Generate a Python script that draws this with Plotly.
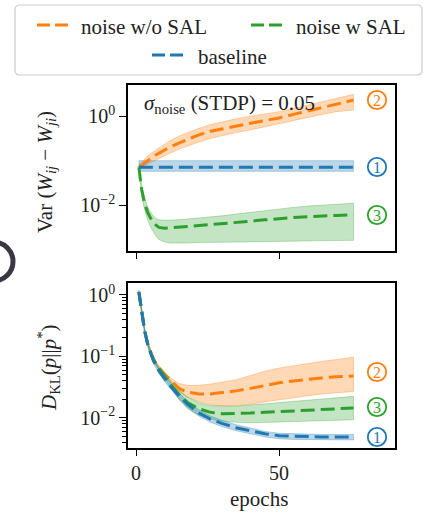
import plotly.graph_objects as go

# ---------------- data ----------------
epochs = [1, 2, 3, 4, 5, 6, 7, 8, 10, 12, 15, 18, 22, 26, 30, 35, 40, 45, 50, 55, 60, 65, 70, 76]

# Top panel: Var(W_ij - W_ji)
var_nosal = [0.0708, 0.0794, 0.0912, 0.102, 0.112, 0.123, 0.135, 0.148, 0.174, 0.204, 0.251, 0.302,
             0.380, 0.457, 0.513, 0.603, 0.692, 0.794, 0.912, 1.096, 1.318, 1.549, 1.862, 2.291]
var_nosal_hi = [0.0794, 0.0933, 0.110, 0.126, 0.141, 0.158, 0.178, 0.195, 0.234, 0.282, 0.355, 0.427,
                0.537, 0.646, 0.741, 0.871, 1.0, 1.122, 1.259, 1.479, 1.778, 2.089, 2.512, 3.090]
var_nosal_lo = [0.0631, 0.0676, 0.0759, 0.0832, 0.0891, 0.0955, 0.102, 0.112, 0.129, 0.148, 0.182, 0.214,
                0.263, 0.316, 0.363, 0.427, 0.490, 0.562, 0.661, 0.794, 0.933, 1.096, 1.259, 1.380]

var_sal = [0.0708, 0.0219, 0.0110, 0.00708, 0.00525, 0.00417, 0.00355, 0.00316, 0.00302, 0.00309, 0.00316, 0.00331,
           0.00347, 0.00363, 0.00380, 0.00407, 0.00437, 0.00468, 0.00501, 0.00525, 0.00550, 0.00575, 0.00589, 0.00603]
var_sal_hi = [0.100, 0.0282, 0.0141, 0.00933, 0.00708, 0.00575, 0.00501, 0.00468, 0.00457, 0.00457, 0.00468, 0.00490,
              0.00513, 0.00537, 0.00575, 0.00631, 0.00692, 0.00759, 0.00832, 0.00891, 0.00955, 0.0100, 0.0105, 0.0110]
var_sal_lo = [0.0562, 0.0158, 0.00794, 0.00479, 0.00331, 0.00251, 0.00200, 0.00170, 0.00148, 0.00141, 0.00141, 0.00141,
              0.00145, 0.00145, 0.00148, 0.00148, 0.00151, 0.00151, 0.00155, 0.00155, 0.00158, 0.00158, 0.00162, 0.00162]

var_base = [0.0708, 0.0708, 0.0708, 0.0708, 0.0708, 0.0708, 0.0708, 0.0708, 0.0708, 0.0708, 0.0708, 0.0708,
            0.0708, 0.0708, 0.0708, 0.0708, 0.0708, 0.0708, 0.0708, 0.0708, 0.0708, 0.0708, 0.0708, 0.0708]
var_base_hi = [0.100, 0.100, 0.100, 0.100, 0.100, 0.100, 0.100, 0.100, 0.100, 0.100, 0.100, 0.100,
               0.100, 0.100, 0.100, 0.100, 0.100, 0.100, 0.100, 0.100, 0.100, 0.100, 0.100, 0.100]
var_base_lo = [0.0575, 0.0575, 0.0575, 0.0575, 0.0575, 0.0575, 0.0575, 0.0575, 0.0575, 0.0575, 0.0575, 0.0575,
               0.0575, 0.0575, 0.0575, 0.0575, 0.0575, 0.0575, 0.0575, 0.0575, 0.0575, 0.0575, 0.0575, 0.0575]

# Bottom panel: D_KL(p||p*)
kl_nosal = [1.122, 0.501, 0.263, 0.166, 0.120, 0.0933, 0.0759, 0.0661, 0.0513, 0.0417, 0.0302, 0.0263,
            0.0245, 0.0245, 0.0257, 0.0275, 0.0302, 0.0339, 0.0372, 0.0398, 0.0427, 0.0447, 0.0468, 0.0479]
kl_nosal_hi = [1.202, 0.537, 0.282, 0.178, 0.129, 0.100, 0.0813, 0.0708, 0.0550, 0.0447, 0.0363, 0.0339,
               0.0339, 0.0355, 0.0380, 0.0417, 0.0490, 0.0575, 0.0646, 0.0708, 0.0759, 0.0832, 0.0891, 0.0977]
kl_nosal_lo = [1.047, 0.468, 0.245, 0.155, 0.112, 0.0871, 0.0708, 0.0617, 0.0479, 0.0380, 0.0269, 0.0219,
               0.0182, 0.0162, 0.0158, 0.0158, 0.0166, 0.0182, 0.0195, 0.0214, 0.0229, 0.0245, 0.0257, 0.0269]

kl_sal = [1.122, 0.501, 0.263, 0.166, 0.117, 0.0912, 0.0741, 0.0631, 0.0479, 0.0355, 0.0240, 0.0178,
          0.0141, 0.0123, 0.0117, 0.0117, 0.0120, 0.0123, 0.0126, 0.0129, 0.0135, 0.0138, 0.0141, 0.0145]
kl_sal_hi = [1.202, 0.537, 0.282, 0.178, 0.126, 0.0977, 0.0794, 0.0676, 0.0525, 0.0407, 0.0282, 0.0219,
             0.0174, 0.0158, 0.0155, 0.0155, 0.0162, 0.0170, 0.0178, 0.0186, 0.0195, 0.0204, 0.0214, 0.0224]
kl_sal_lo = [1.047, 0.468, 0.245, 0.155, 0.110, 0.0851, 0.0692, 0.0589, 0.0437, 0.0316, 0.0200, 0.0141,
             0.0110, 0.00955, 0.00891, 0.00851, 0.00832, 0.00832, 0.00851, 0.00871, 0.00891, 0.00912, 0.00912, 0.00933]

kl_base = [1.122, 0.501, 0.263, 0.162, 0.115, 0.0871, 0.0708, 0.0589, 0.0437, 0.0331, 0.0229, 0.0166,
           0.0120, 0.00955, 0.00813, 0.00692, 0.00617, 0.00550, 0.00513, 0.00501, 0.00490, 0.00490, 0.00490, 0.00490]
kl_base_hi = [1.202, 0.537, 0.288, 0.178, 0.126, 0.0955, 0.0776, 0.0646, 0.0490, 0.0372, 0.0257, 0.0186,
              0.0135, 0.0107, 0.00912, 0.00776, 0.00676, 0.00603, 0.00562, 0.00550, 0.00537, 0.00537, 0.00537, 0.00537]
kl_base_lo = [1.047, 0.468, 0.240, 0.148, 0.105, 0.0794, 0.0646, 0.0525, 0.0389, 0.0295, 0.0204, 0.0148,
              0.0107, 0.00851, 0.00724, 0.00617, 0.00550, 0.00490, 0.00457, 0.00447, 0.00437, 0.00437, 0.00437, 0.00437]

series_names = ["noise w/o SAL", "noise w SAL", "baseline"]
series_tags = ["2", "3", "1"]
x_tick_vals = [0, 50]
x_tick_text = ["0", "50"]
var_tick_vals = [1, 0.01]
var_tick_text = ["10<sup>0</sup>", "10<sup>−2</sup>"]
kl_tick_vals = [1, 0.1, 0.01]
kl_tick_text = ["10<sup>0</sup>", "10<sup>−1</sup>", "10<sup>−2</sup>"]
kl_minor_vals = [0.003, 0.004, 0.005, 0.006, 0.007, 0.008, 0.009,
                 0.02, 0.03, 0.04, 0.05, 0.06, 0.07, 0.08, 0.09,
                 0.2, 0.3, 0.4, 0.5, 0.6, 0.7, 0.8, 0.9]

# ---------------- style ----------------
W, H = 429, 515
FONT = "Liberation Serif"
COLORS = ["#ff7f0e", "#2ca02c", "#1f77b4"]
FILLS = ["rgba(255,127,14,0.30)", "rgba(44,160,44,0.28)", "rgba(31,119,180,0.30)"]
EDGES = ["rgba(255,127,14,0.30)", "rgba(44,160,44,0.30)", "rgba(31,119,180,0.30)"]
DASH = "14px,6px"


def px(x):
    return x / W


def py(y):
    return 1 - y / H


fig = go.Figure()

panels = [
    ("x", "y", [(var_nosal, var_nosal_hi, var_nosal_lo), (var_sal, var_sal_hi, var_sal_lo),
                (var_base, var_base_hi, var_base_lo)]),
    ("x2", "y2", [(kl_nosal, kl_nosal_hi, kl_nosal_lo), (kl_sal, kl_sal_hi, kl_sal_lo),
                  (kl_base, kl_base_hi, kl_base_lo)]),
]

for xa, ya, data in panels:
    for i, (m, hi, lo) in enumerate(data):
        fig.add_trace(go.Scatter(
            x=epochs + epochs[::-1], y=hi + lo[::-1], xaxis=xa, yaxis=ya,
            fill="toself", fillcolor=FILLS[i], line=dict(color=EDGES[i], width=1),
            mode="lines", showlegend=False, hoverinfo="skip"))
    for i, (m, hi, lo) in enumerate(data):
        fig.add_trace(go.Scatter(
            x=epochs, y=m, xaxis=xa, yaxis=ya, mode="lines", name=series_names[i],
            line=dict(color=COLORS[i], width=3, dash=DASH), showlegend=False))

axis_common = dict(showline=True, linecolor="black", linewidth=1.5, mirror=True,
                   ticks="outside", tickcolor="black", tickwidth=1.3, showgrid=False,
                   zeroline=False, tickfont=dict(family=FONT, size=20, color="#222"))

fig.update_layout(
    width=W, height=H, margin=dict(l=0, r=0, t=0, b=0),
    paper_bgcolor="white", plot_bgcolor="white", showlegend=False,
    font=dict(family=FONT, color="#222"),
    xaxis=dict(domain=[px(128), px(395)], range=[-2.8, 90.5], anchor="y",
               tickvals=x_tick_vals, showticklabels=False, ticklen=6, **axis_common),
    yaxis=dict(domain=[py(251), py(85)], type="log", range=[-3.03, 0.70], anchor="x",
               tickvals=var_tick_vals, ticktext=var_tick_text, ticklen=7, **axis_common),
    xaxis2=dict(domain=[px(128), px(395)], range=[-2.8, 90.5], anchor="y2",
                tickvals=x_tick_vals, ticktext=x_tick_text, ticklen=6, **axis_common),
    yaxis2=dict(domain=[py(448), py(283)], type="log", range=[-2.49, 0.195], anchor="x2",
                tickvals=kl_tick_vals, ticktext=kl_tick_text, ticklen=7,
                minor=dict(tickvals=kl_minor_vals, ticks="outside", ticklen=4, tickwidth=1, tickcolor="black"),
                **axis_common),
)

shapes = []
annotations = []

# decorative dark arc at left edge (background)
shapes.append(dict(type="circle", xref="paper", yref="paper", layer="below",
                   x0=px(-26), x1=px(13), y0=py(281), y1=py(242),
                   line=dict(color="#3a3645", width=5)))

# legend box
x0, x1, y0, y1, r = 15, 422, 5, 75, 5
path = (f"M {px(x0 + r)},{py(y0)} L {px(x1 - r)},{py(y0)} Q {px(x1)},{py(y0)} {px(x1)},{py(y0 + r)} "
        f"L {px(x1)},{py(y1 - r)} Q {px(x1)},{py(y1)} {px(x1 - r)},{py(y1)} "
        f"L {px(x0 + r)},{py(y1)} Q {px(x0)},{py(y1)} {px(x0)},{py(y1 - r)} "
        f"L {px(x0)},{py(y0 + r)} Q {px(x0)},{py(y0)} {px(x0 + r)},{py(y0)} Z")
shapes.append(dict(type="path", path=path, xref="paper", yref="paper",
                   fillcolor="white", line=dict(color="#cccccc", width=1.2)))

legend_pos = [(37, 25, 79, 27), (251, 25, 294, 27), (152, 55, 196, 57)]
for i, (lx, ly, tx, ty) in enumerate(legend_pos):
    shapes.append(dict(type="line", xref="paper", yref="paper",
                       x0=px(lx), x1=px(lx + 31), y0=py(ly), y1=py(ly),
                       line=dict(color=COLORS[i], width=3, dash="13px,5px")))
    annotations.append(dict(x=px(tx), y=py(ty), xref="paper", yref="paper", text=series_names[i],
                            showarrow=False, xanchor="left", yanchor="middle",
                            font=dict(family=FONT, size=21, color="#222")))

# circled tags
tag_pos = [[(377, 100), (377, 215), (377, 167)], [(377, 372), (377, 407), (377, 437)]]
for pnl in tag_pos:
    for i, (cx, cy) in enumerate(pnl):
        shapes.append(dict(type="circle", xref="paper", yref="paper",
                           x0=px(cx - 9.2), x1=px(cx + 9.2), y0=py(cy + 9.2), y1=py(cy - 9.2),
                           line=dict(color=COLORS[i], width=1.8)))
        annotations.append(dict(x=px(cx), y=py(cy + 0.5), xref="paper", yref="paper", text=series_tags[i],
                                showarrow=False, xanchor="center", yanchor="middle",
                                font=dict(family=FONT, size=16, color=COLORS[i])))

# texts
annotations.append(dict(x=px(142), y=py(104), xref="paper", yref="paper",
                        text="<i>σ</i><sub>noise</sub> (STDP) = 0.05", showarrow=False,
                        xanchor="left", yanchor="middle", font=dict(family=FONT, size=21, color="#222")))
annotations.append(dict(x=px(46), y=py(172), xref="paper", yref="paper",
                        text="Var (<i>W</i><sub><i>ij</i></sub> − <i>W</i><sub><i>ji</i></sub>)",
                        showarrow=False, textangle=-90, xanchor="center", yanchor="middle",
                        font=dict(family=FONT, size=21, color="#222")))
annotations.append(dict(x=px(48), y=py(368), xref="paper", yref="paper",
                        text="<i>D</i><sub>KL</sub>(<i>p</i>||<i>p</i><sup>*</sup>)",
                        showarrow=False, textangle=-90, xanchor="center", yanchor="middle",
                        font=dict(family=FONT, size=21, color="#222")))
annotations.append(dict(x=px(259), y=py(499), xref="paper", yref="paper", text="epochs",
                        showarrow=False, xanchor="center", yanchor="middle",
                        font=dict(family=FONT, size=21, color="#222")))

fig.update_layout(shapes=shapes, annotations=annotations)
fig.write_html("out.html")
